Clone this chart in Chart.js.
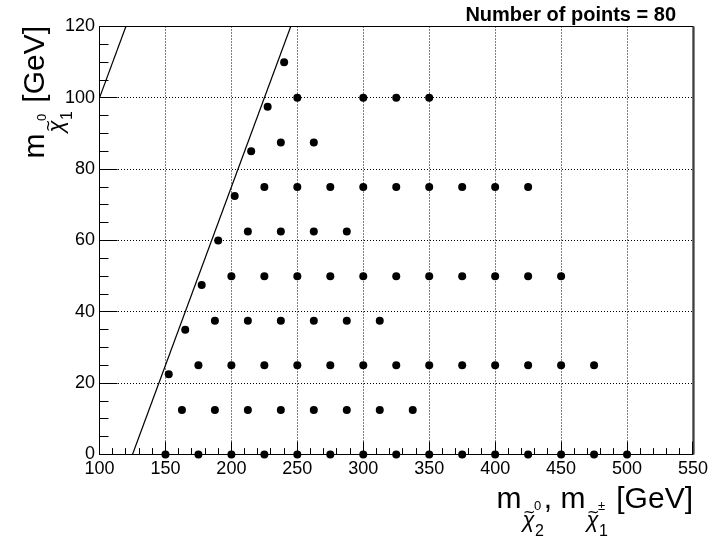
<!DOCTYPE html>
<html>
<head>
<meta charset="utf-8">
<script src="https://cdn.jsdelivr.net/npm/chart.js@4"></script>
<style>
  html, body { margin: 0; padding: 0; background: #fff; }
</style>
</head>
<body>
<canvas id="grid" width="712" height="540"></canvas>
<script>
const FONT = "'Liberation Sans', Arial, Helvetica, sans-serif";
const TITLE_SIZE = 30;

// LSP mass rows (GeV) and the NLSP masses scanned on each row
const lspRows = [0, 12.5, 25, 37.5, 50, 62.5, 75, 87.5, 100];
const nlspByRow = [
  [150, 175, 200, 225, 250, 275, 300, 325, 350, 375, 400, 425, 450, 475, 500],
  [162.5, 187.5, 212.5, 237.5, 262.5, 287.5, 312.5, 337.5],
  [175, 200, 225, 250, 275, 300, 325, 350, 375, 400, 425, 450, 475],
  [187.5, 212.5, 237.5, 262.5, 287.5, 312.5],
  [200, 225, 250, 275, 300, 325, 350, 375, 400, 425, 450],
  [212.5, 237.5, 262.5, 287.5],
  [225, 250, 275, 300, 325, 350, 375, 400, 425],
  [237.5, 262.5],
  [250, 300, 325, 350]
];

// points along the compressed edge
const edgeNlsp = [152.5, 165, 177.5, 190, 202.5, 215, 227.5, 240];
const edgeLsp = [22.5, 35, 47.5, 60, 72.5, 85, 97.5, 110];

// kinematic lines: m1 = m2 and m1 = m2 - mh
const diagX = [100, 120];
const diagY = [100, 120];
const higgsX = [125, 245];
const higgsY = [0, 120];

const points = [];
lspRows.forEach((m1, i) => {
  nlspByRow[i].forEach((m2) => points.push({ x: m2, y: m1 }));
});
edgeNlsp.forEach((m2, i) => points.push({ x: m2, y: edgeLsp[i] }));

function setFont(ctx, size, bold, family) {
  ctx.font = (bold ? 'bold ' : '') + size + 'px ' + (family || FONT);
}
function textWidth(ctx, t, size) {
  setFont(ctx, size);
  return ctx.measureText(t).width;
}
function plain(ctx, t, x, draw) {
  if (draw) { setFont(ctx, TITLE_SIZE); ctx.fillText(t, x, 0); }
  return textWidth(ctx, t, TITLE_SIZE);
}
// m with a tilde-chi subscript carrying its own super/subscript
function massSymbol(ctx, x, sup, sub, draw) {
  const mw = textWidth(ctx, 'm', TITLE_SIZE);
  const cx = x + mw + 1;
  const cw = textWidth(ctx, 'χ', 22);
  if (draw) {
    setFont(ctx, TITLE_SIZE); ctx.fillText('m', x, 0);
    ctx.font = 'italic 22px ' + FONT;
    ctx.fillText('χ', cx, 19);
    setFont(ctx, 15, false, "'DejaVu Sans', sans-serif");
    ctx.textAlign = 'center';
    ctx.fillText('~', cx + cw / 2 + 1, 9);
    ctx.textAlign = 'left';
    setFont(ctx, 13); ctx.fillText(sup, cx + cw, 2);
    setFont(ctx, 16); ctx.fillText(sub, cx + cw + 1, 28);
  }
  const sw = Math.max(textWidth(ctx, sup, 13), textWidth(ctx, sub, 16) + 1);
  return mw + 1 + cw + sw;
}
function massTitle(ctx, groups, tail, draw) {
  let x = 0;
  groups.forEach((g, i) => {
    if (i > 0) x += plain(ctx, ', ', x, draw);
    x += massSymbol(ctx, x, g[0], g[1], draw);
  });
  x += plain(ctx, tail, x, draw);
  return x;
}

const align = (p) => Math.round(p - 0.5) + 0.5;

const framePlugin = {
  id: 'rootFrame',
  beforeDatasetsDraw(chart) {
    const { ctx, chartArea: a, scales: { x, y } } = chart;
    ctx.save();
    ctx.strokeStyle = '#000';
    ctx.lineWidth = 1;
    ctx.strokeRect(a.left, a.top, a.right - a.left, a.bottom - a.top);
    // right edge of the frame is a touch heavier
    ctx.beginPath();
    ctx.moveTo(a.right + 1, a.top);
    ctx.lineTo(a.right + 1, a.bottom);
    ctx.stroke();
    ctx.beginPath();
    for (let v = 100; v <= 550; v += 10) {
      const px = align(x.getPixelForValue(v));
      const len = v % 50 === 0 ? 12.8 : 6.4;
      ctx.moveTo(px, a.bottom);
      ctx.lineTo(px, a.bottom - len);
    }
    for (let v = 0; v <= 120; v += 5) {
      const py = align(y.getPixelForValue(v));
      const len = v % 20 === 0 ? 18 : 9;
      ctx.moveTo(a.left, py);
      ctx.lineTo(a.left + len, py);
    }
    ctx.stroke();
    ctx.restore();
  },
  afterDraw(chart) {
    const { ctx, chartArea: a } = chart;
    ctx.save();
    ctx.fillStyle = '#000';
    ctx.textBaseline = 'alphabetic';
    ctx.textAlign = 'left';

    // x title, right aligned to the frame
    const xGroups = [['0', '2'], ['±', '1']];
    const xw = massTitle(ctx, xGroups, ' [GeV]', false);
    ctx.save();
    ctx.translate(a.right - xw, 508);
    massTitle(ctx, xGroups, ' [GeV]', true);
    ctx.restore();

    // y title, rotated, ending at the top of the frame
    const yGroups = [['0', '1']];
    const yw = massTitle(ctx, yGroups, ' [GeV]', false);
    ctx.save();
    ctx.translate(44, 26 + yw);
    ctx.rotate(-Math.PI / 2);
    massTitle(ctx, yGroups, ' [GeV]', true);
    ctx.restore();

    setFont(ctx, 20, true);
    ctx.textAlign = 'right';
    ctx.fillText('Number of points = ' + points.length, 676, 20.5);
    ctx.restore();
  }
};

const gridColor = (ends) => (c) =>
  (c.tick && ends.includes(c.tick.value)) ? 'rgba(0,0,0,0)' : '#000';

new Chart(document.getElementById('grid'), {
  type: 'scatter',
  data: {
    datasets: [
      {
        data: points,
        pointRadius: 4,
        pointBackgroundColor: '#000',
        pointBorderWidth: 0,
        clip: false
      },
      {
        data: diagX.map((v, i) => ({ x: v, y: diagY[i] })),
        showLine: true,
        pointRadius: 0,
        borderColor: '#000',
        borderWidth: 1.2
      },
      {
        data: higgsX.map((v, i) => ({ x: v, y: higgsY[i] })),
        showLine: true,
        pointRadius: 0,
        borderColor: '#000',
        borderWidth: 1.2
      }
    ]
  },
  options: {
    responsive: false,
    animation: false,
    devicePixelRatio: 1,
    layout: { padding: { left: 0, right: 17.5, top: 26.5, bottom: 0 } },
    plugins: {
      legend: { display: false },
      tooltip: { enabled: false },
      title: { display: false }
    },
    scales: {
      x: {
        type: 'linear',
        min: 100,
        max: 550,
        afterFit: (s) => { s.height = 85.5; },
        grid: { color: gridColor([100, 550]), lineWidth: 1, drawTicks: false },
        border: { display: false, dash: [1, 2] },
        ticks: {
          stepSize: 50,
          padding: 4,
          color: '#000',
          maxRotation: 0,
          autoSkip: false,
          font: { family: FONT, size: 18 }
        }
      },
      y: {
        type: 'linear',
        min: 0,
        max: 120,
        afterFit: (s) => { s.width = 99.5; },
        grid: { color: gridColor([0, 120]), lineWidth: 1, drawTicks: false },
        border: { display: false, dash: [1, 2] },
        ticks: {
          stepSize: 20,
          padding: 4.5,
          color: '#000',
          autoSkip: false,
          font: { family: FONT, size: 18 }
        }
      }
    }
  },
  plugins: [framePlugin]
});
</script>
</body>
</html>
